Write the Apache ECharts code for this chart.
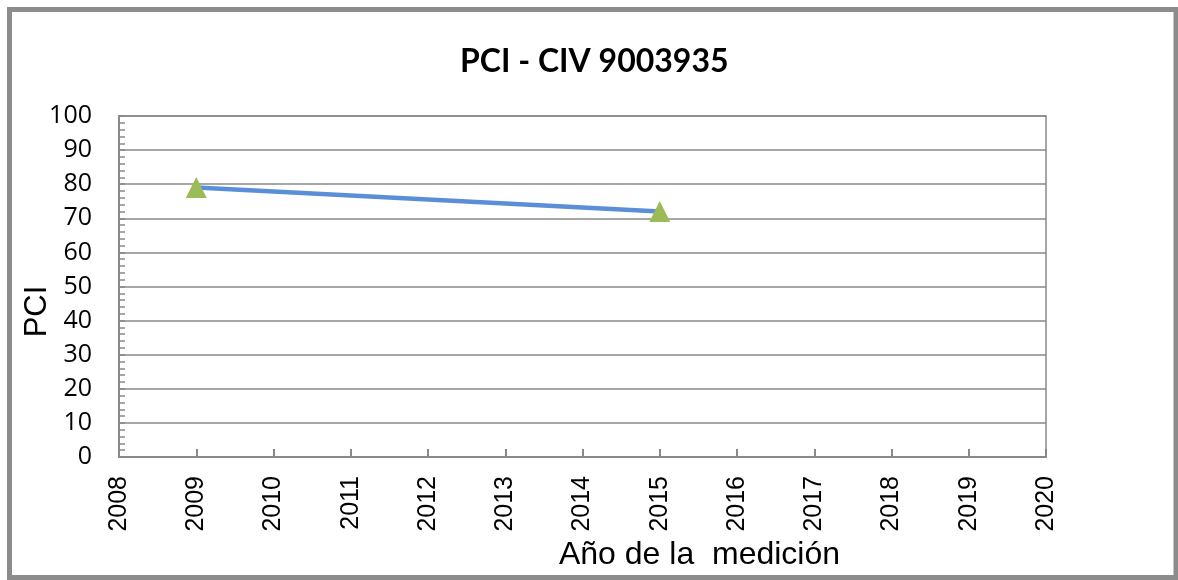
<!DOCTYPE html>
<html>
<head>
<meta charset="utf-8">
<script src="https://cdn.jsdelivr.net/npm/echarts@6/dist/echarts.min.js"></script>
<style>
  html, body { margin: 0; padding: 0; background: #ffffff; }
  #chart { width: 1178px; height: 580px; }
</style>
</head>
<body>
<div id="chart"></div>
<script>
// PCI measurements per year for CIV 9003935
const years = [2009, 2015];
const pciValues = [79, 72];
const chartTitle = 'PCI - CIV 9003935';
const xAxisName = 'Año de la  medición';
const yAxisName = 'PCI';

const points = years.map((y, i) => [y, pciValues[i]]);
const gridGrey = '#898989';

const chart = echarts.init(document.getElementById('chart'), null, { renderer: 'canvas' });
chart.setOption({
  backgroundColor: '#ffffff',
  animation: false,
  title: {
    text: chartTitle,
    left: 455,
    top: 41,
    textStyle: { fontFamily: 'Lato', fontWeight: 'bold', fontSize: 32, color: '#000000' }
  },
  graphic: [{
    type: 'rect',
    shape: { x: 9.5, y: 9.5, width: 1166.5, height: 568 },
    style: { fill: 'none', stroke: '#8c8c8c', lineWidth: 5 },
    silent: true
  }],
  grid: {
    left: 119, right: 132, top: 116, bottom: 123,
    show: true, borderColor: gridGrey, borderWidth: 1.5, backgroundColor: 'transparent'
  },
  xAxis: {
    type: 'value',
    min: 2008, max: 2020, interval: 1,
    name: xAxisName,
    nameLocation: 'middle',
    nameGap: 82,
    nameMoveOverlap: false,
    nameTextStyle: {
      fontFamily: 'Liberation Sans', fontSize: 32, color: '#000000',
      padding: [0, 0, 0, 234]
    },
    axisLine: { show: true, lineStyle: { color: gridGrey, width: 2 } },
    axisTick: { show: true, inside: true, length: 8, lineStyle: { color: gridGrey, width: 2 } },
    splitLine: { show: false },
    axisLabel: {
      rotate: 90, margin: 19,
      fontFamily: 'Liberation Sans', fontSize: 25, color: '#000000',
      formatter: v => String(v)
    }
  },
  yAxis: {
    type: 'value',
    min: 0, max: 100, interval: 10,
    name: yAxisName,
    nameLocation: 'middle',
    nameGap: 66,
    nameRotate: 90,
    nameMoveOverlap: false,
    nameTextStyle: {
      fontFamily: 'Liberation Sans', fontSize: 31, color: '#000000',
      padding: [0, 50, 0, 0]
    },
    axisLine: { show: true, lineStyle: { color: gridGrey, width: 2 } },
    axisTick: { show: true, inside: true, length: 6, lineStyle: { color: gridGrey, width: 1.5 } },
    minorTick: { show: true, splitNumber: 5, length: 6, lineStyle: { color: gridGrey, width: 1.5 } },
    splitLine: { show: true, lineStyle: { color: gridGrey, width: 1.5 } },
    axisLabel: {
      margin: 27,
      fontFamily: 'Open Sans', fontSize: 25, color: '#000000'
    }
  },
  series: [{
    type: 'line',
    data: points,
    symbol: 'triangle',
    symbolSize: 21,
    lineStyle: { color: '#5a8fd8', width: 4.5 },
    itemStyle: { color: '#9bbb59' },
    z: 3
  }]
});
</script>
</body>
</html>
